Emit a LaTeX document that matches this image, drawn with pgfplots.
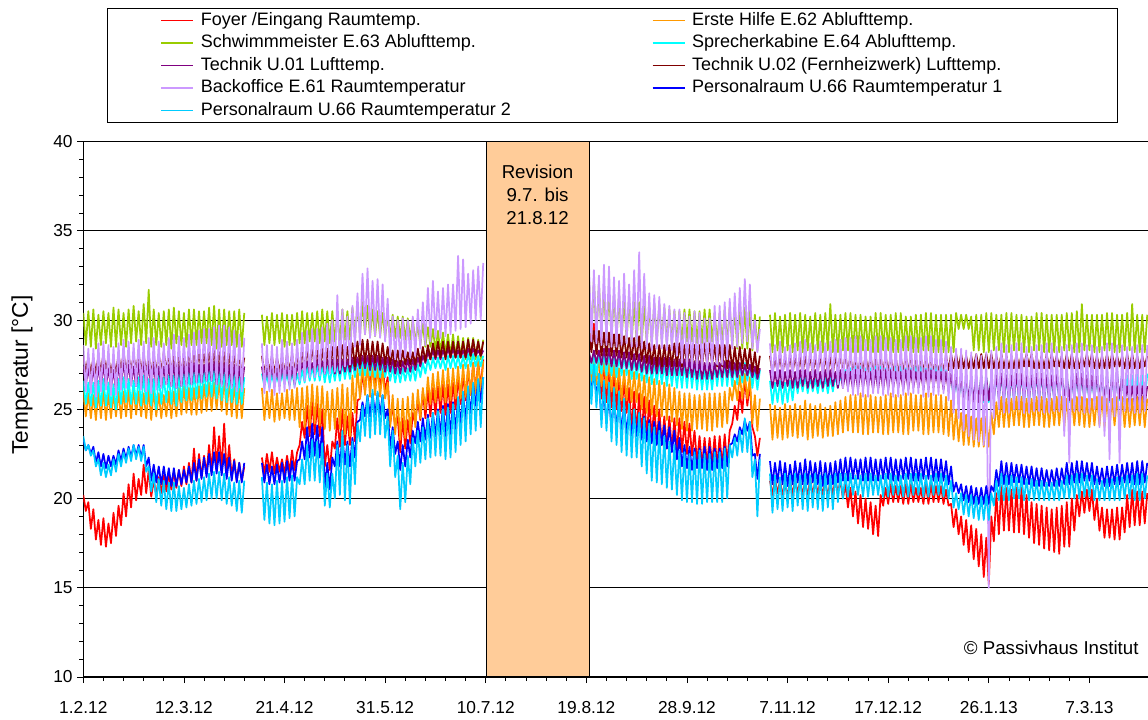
\documentclass[border=0pt]{standalone}
\usepackage{fontspec}
\setmainfont{Liberation Sans}
\usepackage{pgfplots}
\usepackage{pgfplotstable}
\pgfplotsset{compat=1.18}
\definecolor{cRed}{HTML}{FF0000}
\definecolor{cOrange}{HTML}{FF9900}
\definecolor{cGreen}{HTML}{99CC00}
\definecolor{cCyan}{HTML}{00FFFF}
\definecolor{cPurple}{HTML}{800080}
\definecolor{cMaroon}{HTML}{800000}
\definecolor{cLav}{HTML}{CC99FF}
\definecolor{cBlue}{HTML}{0000FF}
\definecolor{cSky}{HTML}{00CCFF}
\definecolor{cPeach}{HTML}{FFCC99}

% d = days since 1.2.12
\pgfplotstableread{
d fo eh sm sk ta tb bo pa pb
0 20.2 26.0 30.4 26.6 27.4 28.0 28.6 23.3 23.5
1 19.3 24.6 28.6 25.3 26.4 27.1 26.0 22.7 22.7
2 19.8 25.9 30.5 26.5 27.3 27.9 28.4 23.0 23.0
3 18.3 24.5 28.5 25.2 26.3 27.0 25.9 22.5 22.4
4 19.4 25.8 30.6 26.5 27.3 27.9 28.4 22.9 22.7
5 17.7 24.4 28.4 25.1 26.2 27.0 25.7 22.0 21.8
6 18.8 26.0 30.3 26.6 27.4 28.0 28.7 22.6 22.2
7 17.4 24.5 28.6 25.2 26.3 27.1 26.0 21.8 21.3
8 18.9 26.1 30.5 26.7 27.5 28.1 28.8 22.5 22.0
9 17.3 24.4 28.7 25.2 26.3 27.2 26.1 21.7 21.2
10 18.6 25.9 30.4 26.5 27.3 27.9 28.6 22.4 21.9
11 17.5 24.5 28.5 25.1 26.2 27.0 25.8 21.8 21.3
12 19.2 25.9 30.7 26.4 27.2 27.8 28.5 22.4 22.2
13 17.9 24.6 28.5 25.0 26.1 27.0 25.8 21.9 21.5
14 19.6 26.0 30.6 26.7 27.5 28.1 28.7 22.7 22.5
15 18.5 24.5 28.6 25.3 26.4 27.1 26.1 22.1 21.8
16 20.3 26.0 30.4 26.8 27.6 28.2 28.9 22.8 22.6
17 19.0 24.6 28.5 25.4 26.5 27.1 26.2 22.2 22.0
18 20.8 26.1 30.6 26.7 27.5 28.0 28.8 22.9 22.8
19 19.5 24.5 28.7 25.3 26.4 27.2 26.3 22.3 22.1
20 21.4 26.2 30.8 26.6 27.4 28.0 28.7 23.0 23.0
21 19.9 24.7 28.8 25.3 26.3 27.2 26.3 22.4 22.2
22 21.1 26.0 30.5 26.8 27.6 28.1 28.9 23.0 22.9
23 20.2 24.6 28.6 25.2 26.2 27.1 26.1 22.3 22.1
24 21.9 25.9 30.9 26.9 27.7 28.1 28.8 23.0 22.9
25 20.3 24.5 28.7 25.3 26.3 27.0 26.0 21.8 21.5
26 21.6 26.1 31.7 26.7 27.5 28.0 29.0 22.3 21.8
27 20.1 24.4 28.5 25.2 26.2 27.0 25.9 21.0 20.4
28 21.0 26.1 30.6 26.7 27.5 28.0 29.0 21.9 21.4
29 20.2 24.6 28.6 25.0 26.3 27.1 26.1 20.9 19.8
30 21.2 25.9 30.4 26.9 27.4 28.1 28.8 21.8 21.1
31 20.3 24.5 28.5 25.3 26.3 27.1 26.2 20.8 19.6
32 21.3 25.8 30.5 26.8 27.4 28.2 28.7 21.8 21.0
33 20.4 24.6 28.6 25.4 26.4 27.2 26.4 20.8 19.4
34 21.4 26.0 30.6 26.9 27.5 28.1 29.0 21.7 20.9
35 20.5 24.5 28.4 25.3 26.3 27.1 26.3 20.7 19.3
36 21.5 26.0 30.7 26.9 27.6 28.1 29.2 21.7 20.9
37 20.6 24.6 28.7 25.2 26.2 27.0 26.2 20.7 19.3
38 21.6 26.2 30.5 27.0 27.5 28.0 29.1 21.6 20.7
39 20.7 24.7 28.6 25.4 26.3 27.1 26.3 20.8 19.4
40 21.8 26.3 30.4 27.0 27.5 28.0 29.0 21.6 20.6
41 20.8 24.8 28.5 25.5 26.4 27.1 26.3 20.9 19.5
42 22.0 26.2 30.6 27.1 27.6 28.2 29.2 21.8 20.8
43 20.9 24.7 28.6 25.5 26.4 27.2 26.4 20.9 19.6
44 22.8 26.2 30.6 27.1 27.6 28.2 29.3 22.0 21.0
45 21.0 24.7 28.6 25.6 26.5 27.3 26.5 21.0 19.7
46 22.5 26.3 30.5 27.2 27.5 28.1 29.4 22.2 21.1
47 21.2 24.8 28.7 25.6 26.5 27.2 26.5 21.1 19.8
48 22.4 26.4 30.5 27.2 27.5 28.1 29.5 22.3 21.2
49 21.4 24.9 28.7 25.7 26.6 27.2 26.6 21.2 19.9
50 23.0 26.5 30.7 27.3 27.6 28.2 29.5 22.5 21.4
51 21.5 24.9 28.6 25.7 26.6 27.2 26.6 21.3 20.0
52 24.0 26.5 30.8 27.3 27.7 28.3 29.6 22.6 21.5
53 21.8 25.0 28.4 25.6 26.4 27.1 26.4 21.4 20.0
54 23.5 26.6 30.6 27.2 27.6 28.2 29.7 22.6 21.5
55 21.7 24.9 28.5 25.5 26.4 27.1 26.3 21.3 19.9
56 24.2 26.8 30.6 27.2 27.6 28.2 29.7 22.5 21.4
57 21.4 24.7 28.6 25.4 26.3 27.0 26.2 21.1 19.7
58 23.0 26.7 30.5 27.1 27.5 28.1 29.6 22.3 21.2
59 21.2 24.6 28.6 25.4 26.3 27.0 26.2 21.0 19.6
60 22.2 26.6 30.5 27.0 27.5 28.1 29.4 22.1 20.9
61 21.0 24.5 28.5 25.3 26.2 27.0 26.0 20.9 19.3
62 22.0 26.4 30.6 26.9 27.4 28.0 29.2 22.0 21.0
63 21.0 24.5 28.5 25.3 26.2 27.0 26.0 20.9 19.2
64 21.8 26.2 30.4 26.8 27.4 27.9 29.0 22.0 21.0
66 nan nan nan nan nan nan nan nan nan
71 22.3 26.2 30.3 27.0 27.4 28.0 28.7 22.0 21.2
72 21.4 24.4 28.6 26.3 26.4 27.0 25.9 20.9 18.8
73 22.5 26.0 30.2 26.9 27.3 27.9 28.6 21.9 20.9
74 21.5 24.5 28.7 26.2 26.5 27.1 26.0 20.8 18.6
75 22.6 26.1 30.4 27.0 27.4 28.0 28.6 21.8 20.8
76 21.4 24.3 28.6 26.3 26.4 27.0 25.8 20.8 18.5
77 22.3 25.9 30.3 26.9 27.3 27.9 28.5 21.9 21.0
78 21.5 24.4 28.7 26.3 26.3 27.1 25.9 20.9 18.6
79 22.2 25.9 30.4 27.0 27.5 28.0 28.9 22.0 21.0
80 21.4 24.5 28.5 26.4 26.5 27.0 26.0 20.9 18.7
81 22.4 26.1 30.3 27.0 27.4 28.1 28.8 22.1 21.2
82 21.5 24.4 28.6 26.3 26.4 27.1 26.1 21.0 18.9
83 22.7 26.1 30.3 27.1 27.4 28.1 28.7 22.1 21.3
84 21.6 24.4 28.6 26.3 26.4 27.2 26.2 21.0 19.0
85 22.6 26.2 30.4 27.0 27.5 28.0 28.9 22.1 21.2
86 23.0 24.0 28.7 26.4 26.9 27.2 26.6 22.2 20.8
87 24.3 26.2 30.5 27.2 27.6 28.3 29.3 23.2 22.2
88 23.4 24.0 28.7 26.5 27.0 27.2 26.6 22.2 20.8
89 25.2 26.3 30.4 27.4 27.7 28.4 29.4 24.0 23.0
90 23.5 24.1 28.8 26.6 27.0 27.3 26.8 22.3 21.0
91 25.5 26.4 30.4 27.4 27.6 28.5 29.5 24.2 23.3
92 23.6 24.2 28.8 26.6 27.0 27.3 26.8 22.4 21.0
93 25.3 26.3 30.5 27.5 27.8 28.4 29.5 24.1 23.2
94 23.5 24.1 28.7 26.6 27.1 27.2 26.9 22.3 20.9
95 25.0 26.3 30.6 27.5 27.7 28.4 29.6 24.0 23.1
96 21.8 23.9 28.8 26.5 27.0 27.3 27.0 20.6 19.6
97 23.0 26.0 30.5 27.4 27.8 28.4 29.8 22.0 21.4
98 21.6 23.8 28.7 26.5 27.1 27.2 27.0 20.5 19.5
99 23.2 26.1 30.5 27.4 27.8 28.5 30.0 22.3 21.4
100 22.8 23.9 28.8 26.6 27.0 27.3 27.1 21.8 20.0
101 24.5 26.2 30.4 27.5 27.8 28.5 31.4 23.2 23.0
102 22.9 23.9 28.8 26.6 27.0 27.3 27.2 21.8 20.2
103 25.0 26.4 30.6 27.6 27.8 28.6 30.6 23.5 23.8
104 23.0 23.6 28.9 26.7 27.1 27.4 27.4 21.9 19.9
105 24.6 26.2 30.5 27.5 27.8 28.5 30.2 23.2 23.0
106 23.0 23.5 28.9 26.7 27.1 27.4 27.5 21.8 19.7
107 24.8 26.9 30.7 27.7 27.9 28.7 30.8 23.4 23.2
108 23.2 24.8 29.0 26.8 27.2 27.4 28.5 22.3 20.8
109 25.5 27.3 30.8 27.8 27.9 28.8 31.5 24.3 24.2
110 25.6 25.6 29.2 26.9 27.3 27.5 28.6 24.4 23.2
111 27.0 27.6 31.0 27.8 28.0 28.9 32.6 25.4 25.2
112 26.0 25.8 29.2 26.9 27.3 27.6 29.2 24.6 23.5
113 27.5 27.6 30.8 27.8 28.0 28.9 32.9 25.8 25.8
114 26.1 25.7 29.1 26.9 27.2 27.5 29.0 24.6 23.4
115 27.8 27.5 30.6 27.8 28.0 28.8 32.2 25.9 26.1
116 26.2 25.8 29.1 26.8 27.2 27.6 29.1 24.7 23.6
117 27.6 27.4 30.5 27.8 28.0 28.8 32.3 25.9 26.0
118 26.1 25.7 29.1 26.8 27.2 27.5 29.0 24.7 23.6
119 27.5 27.2 30.4 27.7 27.9 28.7 32.0 25.8 25.8
120 26.0 25.6 29.0 26.8 27.1 27.5 28.8 24.5 23.4
121 26.8 26.5 30.3 27.5 27.9 28.5 31.2 25.0 24.6
122 24.2 24.0 29.0 26.6 27.1 27.5 28.0 22.8 21.8
123 25.2 25.8 30.3 27.4 27.8 28.3 30.2 24.0 23.8
124 24.0 23.6 29.0 26.5 27.0 27.4 27.8 22.5 21.2
125 24.6 25.6 30.2 27.3 27.7 28.3 30.0 23.2 22.4
126 22.6 23.3 29.0 26.5 27.0 27.4 27.8 21.6 19.4
127 24.5 25.6 30.2 27.3 27.7 28.3 30.1 23.0 22.0
128 22.8 23.4 28.9 26.6 27.1 27.5 27.9 21.8 19.8
129 24.4 25.7 30.1 27.3 27.8 28.2 30.0 23.3 22.4
130 23.1 23.6 28.9 26.6 27.1 27.5 27.9 22.3 20.8
131 24.8 25.9 30.1 27.4 27.8 28.2 30.2 23.8 23.4
132 24.2 24.0 28.7 26.6 27.2 27.5 28.0 23.1 21.8
133 25.6 26.1 29.8 27.5 27.9 28.4 30.6 24.3 23.8
134 24.4 24.5 28.6 26.8 27.4 27.6 28.4 23.2 22.0
135 26.0 26.2 29.8 27.6 28.0 28.5 31.0 24.5 24.0
136 24.5 25.0 28.5 27.0 27.6 27.7 28.6 23.3 22.2
137 26.1 26.8 29.6 27.8 28.2 28.6 31.8 24.7 24.5
138 24.6 25.3 28.5 27.2 27.8 27.8 28.8 23.4 22.3
139 26.2 27.0 29.5 27.9 28.3 28.7 32.2 24.8 24.8
140 24.7 25.4 28.3 27.3 27.8 27.9 29.0 23.5 22.4
141 26.3 27.1 29.4 27.9 28.3 28.8 31.6 25.0 24.9
142 24.8 25.5 28.2 27.3 27.8 27.9 29.0 23.6 22.4
143 26.4 27.2 29.3 27.9 28.3 28.8 31.8 25.2 25.0
144 24.7 25.4 28.1 27.2 27.9 27.8 29.1 23.5 22.2
145 26.4 27.3 29.2 28.0 28.4 28.8 32.0 25.3 25.1
146 24.8 25.5 28.0 27.3 27.9 27.9 29.2 23.6 22.3
147 26.5 27.3 29.2 28.0 28.4 28.8 32.0 25.4 25.3
148 25.0 25.6 27.9 27.3 27.9 27.9 29.4 23.8 22.6
149 26.8 27.4 29.1 28.0 28.3 28.8 33.6 25.6 25.7
150 25.3 25.6 27.9 27.3 27.9 27.9 29.5 24.2 23.0
151 27.0 27.5 29.0 28.0 28.3 28.8 33.4 25.8 26.0
152 25.5 25.7 27.8 27.3 27.9 27.9 29.6 24.4 23.2
153 27.3 27.5 29.0 28.1 28.4 28.9 32.6 26.1 26.3
154 25.8 25.8 27.8 27.4 28.0 28.0 29.8 24.8 23.6
155 27.6 27.6 29.0 28.1 28.4 28.9 32.8 26.4 26.5
156 26.0 25.9 27.8 27.4 28.0 28.0 30.0 25.2 23.8
157 27.7 27.7 28.9 28.0 28.3 28.8 33.0 26.6 26.7
158 26.2 25.9 27.8 27.4 28.0 28.0 30.0 25.4 24.0
159 27.8 27.7 28.9 28.0 28.3 28.8 33.2 26.8 26.8
160 nan nan nan nan nan nan nan nan nan
201 30.4 28.3 32.5 28.3 28.2 29.5 33.3 27.0 27.8
202 28.6 26.5 29.2 27.0 27.6 28.2 28.8 26.1 25.3
203 29.8 28.2 32.2 28.2 28.3 29.4 32.8 26.9 27.5
204 28.3 26.4 29.1 26.9 27.6 28.1 28.7 25.9 25.1
205 28.0 28.0 32.0 28.2 28.3 29.4 32.5 26.6 27.0
206 25.6 26.3 29.2 27.0 27.5 28.0 28.6 24.4 24.0
207 27.8 27.9 31.8 28.2 28.4 29.3 33.1 26.0 26.6
208 25.4 26.2 29.1 26.9 27.5 28.0 28.6 24.2 23.8
209 27.6 27.8 31.6 28.2 28.4 29.3 33.0 25.8 26.5
210 25.1 26.0 29.0 26.9 27.4 28.0 28.5 23.9 23.2
211 27.3 27.5 31.5 28.1 28.3 29.2 32.4 25.7 26.2
212 25.0 25.9 29.0 26.8 27.4 28.0 28.5 23.8 23.0
213 27.0 27.3 31.4 28.0 28.3 29.2 32.2 25.6 26.0
214 24.9 25.5 28.9 26.9 27.3 27.9 28.6 23.7 22.6
215 26.6 27.2 31.2 28.0 28.2 29.1 32.6 25.3 25.6
216 24.8 25.5 28.9 26.9 27.3 27.9 28.7 23.6 22.4
217 26.2 27.2 31.2 28.0 28.2 29.0 32.0 25.0 25.3
218 23.8 25.4 28.8 26.7 27.2 27.8 28.5 23.5 22.3
219 26.0 27.1 31.0 27.9 28.1 29.0 32.8 24.9 25.0
220 23.6 25.4 28.8 26.7 27.2 27.8 28.5 23.5 22.3
221 25.9 27.0 31.0 27.8 28.1 29.1 33.8 24.8 24.8
222 23.5 25.0 28.7 26.6 27.1 27.7 28.4 23.3 21.8
223 25.7 26.9 30.9 27.8 28.0 28.8 32.6 24.6 24.5
224 23.4 24.8 28.7 26.5 27.0 27.6 28.4 23.2 21.4
225 25.5 26.8 30.8 27.8 28.0 28.7 31.5 24.4 24.2
226 23.4 24.7 28.7 26.4 27.0 27.5 28.3 23.1 21.0
227 25.2 26.7 30.9 27.7 27.9 28.6 31.4 24.3 24.0
228 23.2 24.6 28.8 26.4 27.0 27.4 28.4 23.0 20.9
229 25.0 26.6 30.9 27.7 27.9 28.6 31.3 24.3 23.8
230 23.0 24.6 28.8 26.4 27.0 27.4 28.4 23.0 20.8
231 24.6 26.5 30.7 27.6 27.9 28.6 30.9 24.1 23.5
232 22.8 24.4 28.7 26.3 26.9 27.4 28.3 22.8 20.6
233 24.6 26.4 30.6 27.6 27.9 28.6 30.8 24.0 23.2
234 22.7 24.3 28.7 26.3 26.9 27.4 28.3 22.6 20.5
235 24.5 26.2 30.5 27.5 27.8 28.7 30.6 23.8 23.0
236 22.6 24.1 28.7 26.2 26.9 27.4 28.0 22.2 20.2
237 24.5 26.0 30.5 27.5 27.8 28.7 30.6 23.4 22.7
238 22.6 23.9 28.7 26.2 26.9 27.4 27.6 21.8 19.9
239 24.3 25.9 30.6 27.6 27.8 28.6 30.4 23.0 22.6
240 22.5 23.8 28.8 26.2 26.8 27.5 27.4 21.7 19.8
241 24.2 25.9 30.6 27.6 27.8 28.6 30.2 22.9 22.5
242 22.4 23.8 28.8 26.2 26.8 27.5 27.3 21.6 19.8
243 23.8 25.8 30.5 27.5 27.7 28.6 30.5 22.8 22.6
244 22.0 23.9 28.7 26.1 26.7 27.4 27.2 21.7 19.7
245 23.5 25.8 30.5 27.4 27.7 28.6 30.4 22.8 22.7
246 21.8 23.9 28.7 26.1 26.7 27.4 27.2 21.7 19.7
247 23.4 25.9 30.6 27.3 27.6 28.7 30.1 22.9 22.5
248 21.9 23.8 28.8 26.1 26.7 27.5 27.3 21.6 19.8
249 23.4 25.9 30.6 27.3 27.6 28.7 30.1 22.9 22.5
250 21.9 23.8 28.8 26.1 26.7 27.5 27.3 21.6 19.8
251 23.5 25.9 30.4 27.5 27.6 28.6 30.8 22.8 22.6
252 21.8 24.0 28.7 26.3 26.8 27.4 27.5 21.7 19.8
253 23.5 25.9 30.4 27.5 27.6 28.6 30.8 22.8 22.6
254 21.8 24.0 28.7 26.3 26.8 27.4 27.5 21.7 19.8
255 23.6 26.0 30.6 27.6 27.7 28.6 31.0 22.9 22.8
256 21.9 24.2 28.6 26.3 26.8 27.3 27.8 21.8 20.0
257 23.8 26.2 30.7 27.6 27.7 28.6 31.2 23.0 23.0
258 24.2 25.5 28.5 26.3 26.8 27.2 28.4 23.1 22.3
259 25.2 26.6 30.7 27.5 27.6 28.5 31.5 23.6 23.4
260 24.4 25.5 28.4 26.4 26.8 27.2 28.5 23.2 22.4
261 26.0 26.9 30.8 27.6 27.6 28.5 31.8 24.0 23.8
262 24.8 25.6 28.4 26.5 26.9 27.3 28.7 23.6 22.6
263 26.8 27.0 30.7 27.6 27.5 28.4 32.3 24.4 24.5
264 25.2 25.6 28.4 26.6 26.9 27.3 28.8 23.8 22.6
265 26.5 26.8 30.6 27.5 27.5 28.4 32.0 24.3 24.3
266 24.0 24.2 28.3 26.2 26.8 27.1 28.4 22.4 21.2
267 23.5 25.8 30.3 27.3 27.4 28.2 30.0 22.5 22.2
268 22.4 23.8 28.3 26.1 26.7 27.0 28.2 21.1 19.0
269 23.4 25.6 30.2 27.2 27.3 28.0 29.5 22.5 22.2
271 nan nan nan nan nan nan nan nan nan
273 21.0 25.3 30.3 26.6 27.2 28.0 28.7 22.1 21.4
274 20.2 23.3 28.2 25.3 26.2 27.0 26.6 20.8 19.2
275 21.1 25.2 30.4 26.5 27.1 27.9 28.6 22.0 21.3
276 20.3 23.4 28.3 25.4 26.3 27.1 26.7 20.9 19.4
277 21.0 25.1 30.2 26.6 27.2 28.0 28.8 22.1 21.2
278 20.2 23.3 28.2 25.3 26.2 27.0 26.6 20.8 19.3
279 20.9 25.3 30.3 26.5 27.1 27.9 28.5 22.0 21.4
280 20.1 23.4 28.3 25.4 26.3 27.1 26.7 20.7 19.5
281 21.0 25.2 30.4 26.6 27.2 28.0 28.6 21.9 21.3
282 20.2 23.5 28.2 25.5 26.2 27.0 26.8 20.8 19.3
283 21.1 25.3 30.3 26.8 27.1 28.0 28.7 22.1 21.4
284 20.3 23.4 28.3 25.9 26.2 27.1 26.6 20.9 19.6
285 21.0 25.2 30.4 26.8 27.2 27.9 28.8 22.0 21.3
286 20.2 23.5 28.2 26.0 26.3 27.0 26.7 20.8 19.4
287 21.0 25.5 30.3 26.9 27.2 28.0 28.9 22.2 21.4
288 20.1 23.3 28.3 25.9 26.2 27.1 26.6 20.8 19.3
289 21.1 25.3 30.2 26.8 27.1 28.0 28.7 22.1 21.3
290 20.2 23.4 28.2 26.0 26.2 27.0 26.8 20.9 19.5
291 21.0 25.2 30.4 26.7 27.2 27.9 28.6 22.0 21.4
292 20.3 23.5 28.3 25.9 26.3 27.1 26.7 20.8 19.4
293 20.9 25.3 30.3 26.8 27.1 28.0 28.8 22.1 21.3
294 20.2 23.4 28.2 26.0 26.2 27.0 26.6 20.7 19.3
295 21.0 25.1 30.4 26.8 27.2 27.9 28.7 22.0 21.4
296 20.1 23.5 28.3 25.9 26.3 27.1 26.8 20.8 19.5
297 21.0 25.2 30.9 26.8 27.2 27.9 28.8 22.0 21.3
298 20.2 23.5 28.2 26.0 26.3 27.0 26.7 20.8 19.4
299 21.1 25.4 30.3 26.9 27.1 28.0 28.9 22.1 21.4
300 20.3 23.6 28.2 26.2 26.2 27.1 26.4 20.9 19.8
301 21.0 25.5 30.3 26.9 27.2 28.0 28.9 22.2 21.4
302 20.0 23.7 28.3 26.4 26.2 27.1 26.2 21.0 20.0
303 20.8 25.7 30.4 27.2 27.1 28.0 29.0 22.3 21.4
304 19.5 23.8 28.3 26.6 26.2 27.1 26.0 21.0 20.1
305 20.6 25.8 30.4 27.3 27.1 28.0 29.0 22.3 21.4
306 19.0 23.7 28.2 26.6 26.1 27.0 25.8 21.1 20.2
307 20.4 25.8 30.3 27.4 27.2 27.9 29.1 22.2 21.3
308 18.6 23.7 28.2 26.6 26.1 27.0 25.8 21.1 20.2
309 20.2 25.9 30.3 27.4 27.2 27.9 29.1 22.2 21.3
310 18.4 23.6 28.3 26.7 26.2 27.1 25.7 21.0 20.1
311 20.0 25.8 30.2 27.3 27.1 28.0 28.9 22.3 21.4
312 18.3 23.6 28.3 26.7 26.2 27.1 25.7 21.0 20.1
313 19.8 25.8 30.2 27.3 27.1 28.0 28.9 22.3 21.4
314 18.0 23.7 28.2 26.6 26.1 27.0 25.9 21.0 20.2
315 19.6 25.7 30.4 27.4 27.2 27.9 29.1 22.2 21.3
316 17.9 23.7 28.2 26.6 26.1 27.0 25.9 21.0 20.2
317 20.2 25.7 30.4 27.4 27.2 27.9 29.1 22.2 21.3
318 19.6 23.6 28.3 26.6 26.1 27.1 25.8 21.1 20.1
319 20.6 25.8 30.3 27.3 27.2 28.0 29.0 22.3 21.4
320 19.7 23.6 28.3 26.6 26.1 27.1 25.8 21.1 20.1
321 20.8 25.9 30.3 27.3 27.2 28.0 29.0 22.3 21.4
322 19.8 23.7 28.2 26.7 26.2 27.0 25.7 21.0 20.2
323 20.7 25.8 30.4 27.4 27.1 27.9 28.9 22.2 21.3
324 19.8 23.7 28.2 26.7 26.2 27.0 25.7 21.0 20.2
325 20.7 25.8 30.4 27.4 27.1 27.9 28.9 22.2 21.3
326 19.7 23.6 28.3 26.6 26.1 27.1 25.8 21.1 20.1
327 20.8 25.9 30.2 27.3 27.2 28.0 29.1 22.3 21.4
328 19.7 23.6 28.3 26.6 26.1 27.1 25.8 21.1 20.1
329 20.8 25.9 30.2 27.3 27.2 28.0 29.1 22.3 21.4
330 19.8 23.8 28.2 26.7 26.2 27.0 25.9 21.0 20.2
331 20.6 25.8 30.3 27.4 27.1 27.9 29.0 22.2 21.4
332 19.8 23.8 28.2 26.7 26.2 27.0 25.9 21.0 20.2
333 20.6 25.8 30.3 27.4 27.1 27.9 29.0 22.2 21.4
334 19.7 23.6 28.3 26.6 26.1 27.1 25.7 21.1 20.1
335 20.8 25.9 30.4 27.3 27.2 28.0 29.1 22.3 21.3
336 19.7 23.6 28.3 26.6 26.1 27.1 25.7 21.1 20.1
337 20.8 25.9 30.4 27.3 27.2 28.0 29.1 22.3 21.3
338 19.8 23.7 28.2 26.7 26.2 27.0 25.8 21.0 20.2
339 20.7 25.8 30.3 27.4 27.1 27.9 28.9 22.2 21.4
340 19.8 23.7 28.2 26.7 26.2 27.0 25.8 21.0 20.2
341 20.7 25.8 30.3 27.4 27.1 27.9 28.9 22.2 21.4
342 19.7 23.6 28.2 26.6 26.1 27.1 25.9 21.0 20.1
343 20.5 25.7 30.3 27.2 27.1 28.0 28.8 22.1 21.3
344 19.6 23.5 28.2 26.4 26.0 27.2 25.5 20.8 20.0
345 19.7 25.5 30.3 27.0 27.0 28.1 28.5 21.8 21.0
346 18.4 23.3 28.2 25.6 25.7 27.3 24.8 20.4 19.5
347 19.4 25.0 30.4 26.9 26.9 28.1 28.4 20.9 20.3
348 18.0 23.2 29.5 25.5 25.6 27.3 24.5 20.3 19.4
349 19.0 24.8 30.3 26.9 26.8 28.1 28.4 20.8 20.3
350 17.4 23.0 29.5 25.4 25.5 27.3 23.8 19.9 19.1
351 18.8 24.7 30.3 26.8 26.8 28.0 28.3 20.7 20.2
352 17.0 23.0 29.5 25.4 25.5 27.3 23.5 19.8 19.0
353 18.5 24.6 30.2 26.8 26.8 28.0 28.2 20.7 20.2
354 16.6 22.9 28.3 25.3 25.4 27.3 23.3 19.7 18.9
355 18.3 24.5 30.3 26.9 26.9 28.1 28.1 20.6 20.1
356 16.2 22.9 28.3 25.3 25.4 27.3 23.2 19.7 18.8
357 18.0 24.5 30.3 26.9 26.9 28.1 28.0 20.6 20.1
358 15.6 22.9 28.2 25.4 25.5 27.3 23.0 19.7 18.8
359 17.8 24.6 30.4 26.8 26.8 28.1 28.2 20.7 20.2
360 15.2 22.9 28.2 25.4 25.5 27.3 15.0 19.7 18.8
361 19.0 24.8 30.4 26.8 26.8 28.1 28.3 20.7 20.3
362 17.6 23.6 28.3 25.5 25.6 27.3 24.5 20.4 19.6
363 20.3 25.4 30.3 26.9 26.9 28.0 28.5 21.6 21.0
364 18.0 24.0 28.3 25.6 25.6 27.3 25.0 20.7 19.9
365 20.7 25.7 30.3 27.0 27.0 28.1 28.7 22.1 21.4
366 18.2 24.0 28.2 25.4 25.5 27.3 24.8 20.8 19.9
367 20.6 25.6 30.4 26.9 26.9 28.0 28.6 22.0 21.3
368 18.2 24.0 28.2 25.4 25.5 27.3 24.8 20.8 19.9
369 20.5 25.6 30.4 26.9 26.9 28.0 28.6 22.0 21.3
370 18.1 24.1 28.3 25.5 25.6 27.3 25.0 20.9 20.0
371 20.6 25.7 30.3 27.0 27.0 28.1 28.7 21.9 21.2
372 18.1 24.1 28.3 25.5 25.6 27.3 25.0 20.9 20.0
373 20.6 25.7 30.3 27.0 27.0 28.1 28.7 21.9 21.2
374 18.0 24.0 28.2 25.4 25.5 27.4 24.8 20.8 19.9
375 20.2 25.6 30.2 26.9 26.9 28.1 28.5 21.8 21.1
376 17.8 24.0 28.2 25.4 25.5 27.4 24.8 20.8 19.9
377 19.8 25.6 30.2 26.9 26.9 28.1 28.5 21.8 21.1
378 17.5 24.1 28.3 25.5 25.6 27.3 24.9 20.7 19.9
379 19.7 25.7 30.4 27.0 27.0 28.0 28.6 21.7 21.0
380 17.4 24.1 28.3 25.5 25.6 27.3 24.9 20.7 19.9
381 19.6 25.7 30.4 27.0 27.0 28.0 28.6 21.7 21.0
382 17.2 24.0 28.2 25.4 25.5 27.3 24.8 20.7 19.9
383 19.5 25.6 30.3 26.9 26.9 28.1 28.7 21.6 20.9
384 17.1 24.0 28.2 25.4 25.5 27.3 24.8 20.7 19.9
385 19.4 25.6 30.3 26.9 26.9 28.1 28.7 21.6 20.9
386 17.0 24.1 28.2 25.5 25.6 27.4 24.9 20.7 19.9
387 19.5 25.7 30.3 27.0 27.0 28.0 28.5 21.7 21.0
388 16.9 24.1 28.2 25.5 25.6 27.4 24.9 20.7 19.9
389 19.6 25.7 30.3 27.0 27.0 28.0 28.5 21.7 21.0
390 17.3 24.0 28.3 25.4 25.5 27.3 23.5 20.8 20.0
391 19.8 25.6 30.4 26.9 26.9 28.1 28.6 22.0 21.3
392 17.3 24.0 28.3 25.4 25.5 27.3 22.0 20.8 20.0
393 20.0 25.6 30.4 26.9 26.9 28.1 28.6 22.0 21.3
394 18.2 24.1 28.2 25.5 25.6 27.3 24.9 20.9 20.0
395 20.2 25.7 30.5 27.0 27.0 28.0 28.7 22.1 21.4
396 19.0 24.1 28.2 25.5 25.6 27.3 24.9 20.9 20.0
397 20.4 25.7 30.9 27.0 27.0 28.0 28.7 22.1 21.4
398 19.2 24.0 28.3 25.4 25.5 27.4 24.8 21.0 20.1
399 20.5 25.6 30.3 26.9 26.9 28.1 28.6 22.0 21.3
400 19.3 24.0 28.3 25.4 25.5 27.4 24.8 21.0 20.1
401 20.5 25.6 30.3 26.9 26.9 28.1 28.6 22.0 21.3
402 18.8 24.1 28.2 25.5 25.6 27.3 25.0 20.8 19.9
403 20.0 25.7 30.3 27.0 27.0 28.0 28.5 21.8 21.1
404 18.2 24.1 28.2 25.5 25.6 27.3 24.0 20.8 19.9
405 19.5 25.7 30.3 27.0 27.0 28.0 28.5 21.7 21.0
406 17.8 24.0 28.3 25.4 25.5 27.3 23.5 20.7 19.9
407 19.4 25.6 30.4 26.9 26.9 28.1 28.7 21.8 21.1
408 17.8 24.0 28.3 25.4 25.5 27.3 22.2 20.7 19.9
409 19.4 25.6 30.4 26.9 26.9 28.1 28.7 21.8 21.1
410 17.7 24.1 28.2 25.5 25.6 27.4 24.6 20.8 19.9
411 19.5 25.7 30.3 27.0 27.0 28.0 28.6 21.9 21.2
412 17.7 24.1 28.2 25.5 25.6 27.4 22.0 20.8 19.9
413 19.5 25.7 30.3 27.0 27.0 28.0 28.6 21.9 21.2
414 18.1 24.0 28.3 25.4 25.4 27.3 24.9 20.9 20.0
415 20.2 25.6 30.4 26.9 26.3 28.1 28.5 22.0 21.3
416 18.4 24.0 28.3 25.4 25.3 27.3 24.9 20.9 20.0
417 20.5 25.6 30.9 26.9 26.3 28.1 28.5 22.0 21.3
418 18.5 24.1 28.2 25.5 25.3 27.3 24.8 20.8 19.9
419 20.4 25.7 30.3 27.0 26.3 28.0 28.6 22.1 21.4
420 18.5 24.1 28.2 25.5 25.3 27.3 24.8 20.8 19.9
421 20.4 25.7 30.3 27.0 26.3 28.0 28.6 22.1 21.4
422 18.6 24.0 28.2 25.4 25.3 27.4 24.9 20.9 20.0
423 20.3 25.6 30.3 27.0 26.3 28.0 28.6 22.0 21.3
}\datatable

\begin{document}
\begin{tikzpicture}
\useasboundingbox (-62.48pt,-32.25pt) rectangle (798.52pt,507.75pt);
\begin{axis}[
  at={(0pt,0pt)}, anchor=south west,
  scale only axis, width=798.52pt, height=401.5pt,
  xmin=0, xmax=423.3, ymin=10, ymax=40,
  enlargelimits=false,
  axis lines*=left,
  axis line style={-, line width=1pt, black},
  xtick={0,40,...,400},
  xticklabels={1.2.12,12.3.12,21.4.12,31.5.12,10.7.12,19.8.12,28.9.12,7.11.12,17.12.12,26.1.13,7.3.13},
  ytick={10,15,...,40},
  minor x tick num=4,
  minor y tick num=4,
  tick align=outside,
  major tick length=4.5pt,
  minor tick length=3pt,
  tick style={black, line width=0.6pt},
  ymajorgrids,
  grid style={black, line width=0.7pt},
  /pgf/number format/assume math mode=true,
  tick label style={font=\fontsize{13}{15}\selectfont},
  xticklabel style={yshift=-10.5pt},
  ylabel={Temperatur [°C]},
  every axis y label/.style={at={(axis description cs:-0.0575,0.564)}, rotate=90, anchor=center, font=\fontsize{17}{19}\selectfont},
  unbounded coords=jump,
  legend columns=2,
  legend cell align=left,
  legend image code/.code={\draw[#1, line width=1pt] (0pt,0pt) -- (24pt,0pt);},
  legend style={
    at={(axis description cs:0.0223,1.2498)}, anchor=north west,
    draw=black, line width=0.75pt,
    font=\fontsize{13.5}{16}\selectfont,
    inner xsep=39.75pt, inner ysep=2.5pt,
    row sep=3.875pt,
    nodes={inner sep=0pt, text height=10pt, text depth=3pt},
    /tikz/every odd column/.append style={column sep=5.25pt},
    /tikz/every even column/.append style={column sep=0pt},
  },
  every axis plot/.append style={line width=1.3pt, line join=round},
]
\addplot[cRed] table[x=d,y=fo]{\datatable};
\addlegendentry{\makebox[338.25pt][l]{Foyer /Eingang Raumtemp.}}
\addplot[cOrange] table[x=d,y=eh]{\datatable};
\addlegendentry{\makebox[279pt][l]{Erste Hilfe E.62 Ablufttemp.}}
\addplot[cGreen] table[x=d,y=sm]{\datatable};
\addlegendentry{\makebox[338.25pt][l]{Schwimmmeister E.63 Ablufttemp.}}
\addplot[cCyan] table[x=d,y=sk]{\datatable};
\addlegendentry{\makebox[279pt][l]{Sprecherkabine E.64 Ablufttemp.}}
\addplot[cPurple] table[x=d,y=ta]{\datatable};
\addlegendentry{\makebox[338.25pt][l]{Technik U.01 Lufttemp.}}
\addplot[cMaroon] table[x=d,y=tb]{\datatable};
\addlegendentry{\makebox[279pt][l]{Technik U.02 (Fernheizwerk) Lufttemp.}}
\addplot[cLav] table[x=d,y=bo]{\datatable};
\addlegendentry{\makebox[338.25pt][l]{Backoffice E.61 Raumtemperatur}}
\addplot[cBlue] table[x=d,y=pa]{\datatable};
\addlegendentry{\makebox[279pt][l]{Personalraum U.66 Raumtemperatur 1}}
\addplot[cSky] table[x=d,y=pb]{\datatable};
\addlegendentry{\makebox[338.25pt][l]{Personalraum U.66 Raumtemperatur 2}}

\draw[fill=cPeach, line width=0.75pt] (axis cs:160.2,10) rectangle (axis cs:201.1,40);
\node[align=center, font=\fontsize{14}{17.25}\selectfont] at (axis cs:180.6,37.0) {Revision\\9.7. bis\\21.8.12};
\node[anchor=east, font=\fontsize{14}{16}\selectfont] at (axis cs:421.4,11.62) {© Passivhaus Institut};
\end{axis}
\end{tikzpicture}
\end{document}
